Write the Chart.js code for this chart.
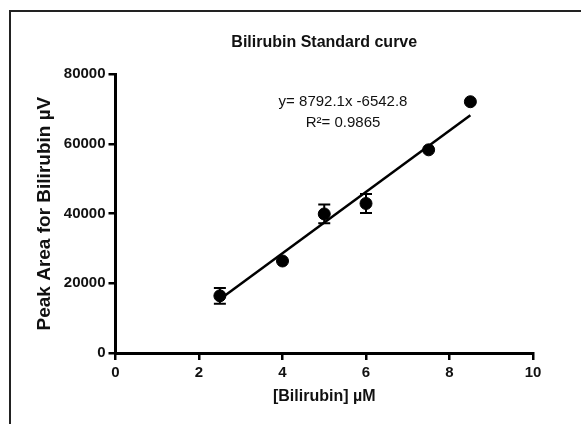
<!DOCTYPE html>
<html>
<head>
<meta charset="utf-8">
<title>Bilirubin Standard curve</title>
<script src="https://cdn.jsdelivr.net/npm/chart.js@4.4.1/dist/chart.umd.min.js"></script>
<style>
  html, body { margin: 0; padding: 0; background: #fff; }
  #wrap { position: relative; width: 581px; height: 424px; overflow: hidden; }
  #frame { position: absolute; left: 9px; top: 10px; width: 640px; height: 480px;
           border-left: 2px solid #222; border-top: 2px solid #222; }
  #chart { position: absolute; left: 0; top: 0; }
</style>
</head>
<body>
<div id="wrap">
  <div id="frame"></div>
  <canvas id="chart" width="581" height="424"></canvas>
</div>
<script>
// dados
const concentration = [2.5, 4, 5, 6, 7.5, 8.5];
const peakArea = [16400, 26400, 39900, 42900, 58300, 72100];
const peakAreaErr = [2250, 0, 2700, 2700, 0, 0];
const fitX = [2.5, 8.5];
const fitY = [15440, 68190];
const xTicks = [0, 2, 4, 6, 8, 10];
const yTicks = [0, 20000, 40000, 60000, 80000];
const equationLines = ['y= 8792.1x -6542.8', 'R\u00b2= 0.9865'];

const FONT = "'Liberation Sans', Arial, sans-serif";

// barras de erro desenhadas antes dos pontos
const errorBars = {
  id: 'errorBars',
  beforeDatasetsDraw(chart) {
    const { ctx, scales: { x, y } } = chart;
    ctx.save();
    ctx.strokeStyle = '#000';
    ctx.lineWidth = 2;
    concentration.forEach((c, i) => {
      const e = peakAreaErr[i];
      if (!e) return;
      const px = x.getPixelForValue(c);
      const top = y.getPixelForValue(peakArea[i] + e);
      const bot = y.getPixelForValue(peakArea[i] - e);
      ctx.beginPath();
      ctx.moveTo(px, top); ctx.lineTo(px, bot);
      ctx.moveTo(px - 6, top); ctx.lineTo(px + 6, top);
      ctx.moveTo(px - 6, bot); ctx.lineTo(px + 6, bot);
      ctx.stroke();
    });
    ctx.restore();
  }
};

// texto da equação da reta
const equationLabel = {
  id: 'equationLabel',
  afterDatasetsDraw(chart) {
    const { ctx, scales: { x, y } } = chart;
    const cx = x.getPixelForValue(5.45);
    ctx.save();
    ctx.fillStyle = '#111';
    ctx.font = '15px ' + FONT;
    ctx.textAlign = 'center';
    ctx.textBaseline = 'middle';
    ctx.fillText(equationLines[0], cx, y.getPixelForValue(72000));
    ctx.fillText(equationLines[1], cx, y.getPixelForValue(65900));
    ctx.restore();
  }
};

const axisGrid = {
  display: true,
  drawOnChartArea: false,
  drawTicks: true,
  tickLength: 7,
  color: '#000',
  lineWidth: 2.5
};

new Chart(document.getElementById('chart'), {
  type: 'scatter',
  data: {
    datasets: [
      {
        label: 'Fit',
        type: 'line',
        data: fitX.map((v, i) => ({ x: v, y: fitY[i] })),
        borderColor: '#000',
        borderWidth: 2.5,
        pointRadius: 0,
        fill: false
      },
      {
        label: 'Bilirubin',
        data: concentration.map((v, i) => ({ x: v, y: peakArea[i] })),
        backgroundColor: '#000',
        borderColor: '#000',
        pointRadius: 6,
        pointHoverRadius: 6
      }
    ]
  },
  options: {
    responsive: false,
    animation: false,
    events: [],
    layout: { padding: { left: 0, right: 48, top: 0, bottom: 0 } },
    plugins: {
      legend: { display: false },
      tooltip: { enabled: false },
      title: {
        display: true,
        text: 'Bilirubin Standard curve',
        fullSize: false,
        color: '#111',
        font: { family: FONT, size: 16, weight: 'bold' },
        padding: { top: 33, bottom: 22 }
      }
    },
    scales: {
      x: {
        type: 'linear',
        min: xTicks[0],
        max: xTicks[xTicks.length - 1],
        afterBuildTicks: s => { s.ticks = xTicks.map(v => ({ value: v })); },
        afterFit: s => { s.height = 71; },
        border: { color: '#000', width: 3 },
        grid: axisGrid,
        ticks: {
          color: '#111',
          padding: 4,
          font: { family: FONT, size: 15, weight: 'bold' },
          callback: v => String(v)
        },
        title: {
          display: true,
          text: '[Bilirubin] \u00b5M',
          color: '#111',
          font: { family: FONT, size: 16, weight: 'bold' },
          padding: { top: 0, bottom: 18 }
        }
      },
      y: {
        type: 'linear',
        min: yTicks[0],
        max: yTicks[yTicks.length - 1],
        afterBuildTicks: s => { s.ticks = yTicks.map(v => ({ value: v })); },
        afterFit: s => { s.width = 115.5; },
        border: { color: '#000', width: 3 },
        grid: axisGrid,
        ticks: {
          color: '#111',
          padding: 3,
          font: { family: FONT, size: 15, weight: 'bold' },
          callback: v => String(v)
        },
        title: {
          display: true,
          text: 'Peak Area for Bilirubin \u00b5V',
          color: '#111',
          font: { family: FONT, size: 19, weight: 'bold' },
          padding: { top: 33, bottom: 0 }
        }
      }
    }
  },
  plugins: [errorBars, equationLabel]
});
</script>
</body>
</html>
